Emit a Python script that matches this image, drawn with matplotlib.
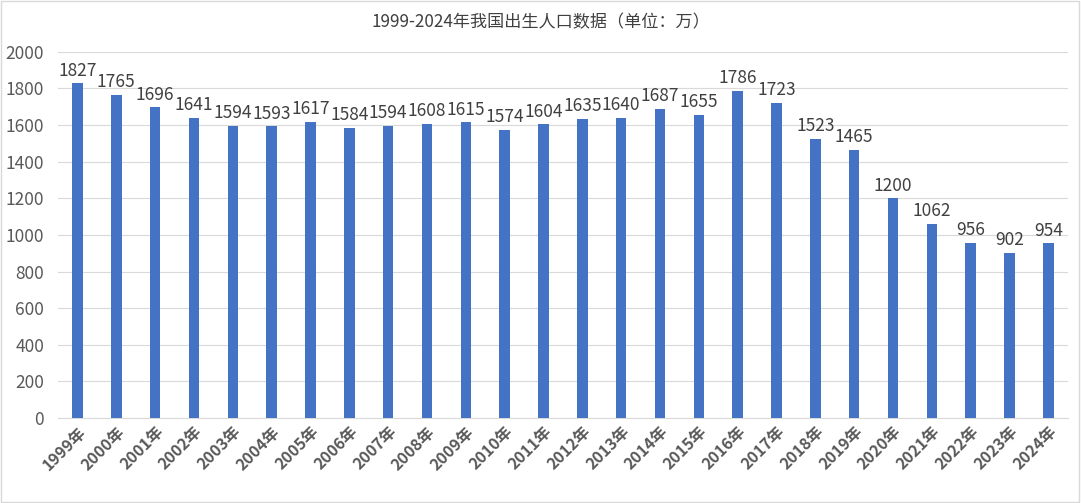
import matplotlib.pyplot as plt
import numpy as np

plt.rcParams['font.family'] = ['Noto Sans CJK SC', 'DejaVu Sans']

years = [str(y) + '年' for y in range(1999, 2025)]
births = [1827, 1765, 1696, 1641, 1594, 1593, 1617, 1584, 1594, 1608, 1615,
          1574, 1604, 1635, 1640, 1687, 1655, 1786, 1723, 1523, 1465, 1200,
          1062, 956, 902, 954]

fig = plt.figure(figsize=(10.81, 5.03), dpi=100)
ax = fig.add_axes([0.0537, 0.169, 0.934, 0.728])

x = np.arange(len(years))
bars = ax.bar(x, births, width=0.27, color='#4472C4', zorder=3)
for xi, v in zip(x, births):
    ax.text(xi, v + 20, str(v), ha='center', va='bottom', fontsize=12.5, color='#404040')

ax.set_xlim(-0.5, len(years) - 0.5)
ax.set_ylim(0, 2000)
ax.set_yticks(range(0, 2001, 200))
ax.set_xticks(x)
ax.set_xticklabels(years, rotation=45, ha='right', rotation_mode='anchor',
                   fontsize=11.5, fontweight='bold', color='#595959')
ax.tick_params(axis='y', labelsize=12.5, labelcolor='#595959', length=0, pad=10)
ax.tick_params(axis='x', length=0, pad=4)
ax.grid(axis='y', color='#D9D9D9', linewidth=0.8, zorder=0)
for s in ['top', 'right', 'left']:
    ax.spines[s].set_visible(False)
ax.spines['bottom'].set_color('#D9D9D9')

fig.text(0.5, 0.955, '1999-2024年我国出生人口数据（单位：万）', ha='center', va='center',
         fontsize=12.3, color='#404040')

fig.patches.append(plt.Rectangle((0.001, 0.002), 0.997, 0.996, transform=fig.transFigure,
                                 fill=False, edgecolor='#D9D9D9', linewidth=1))

fig.savefig('out.png', dpi=100)
